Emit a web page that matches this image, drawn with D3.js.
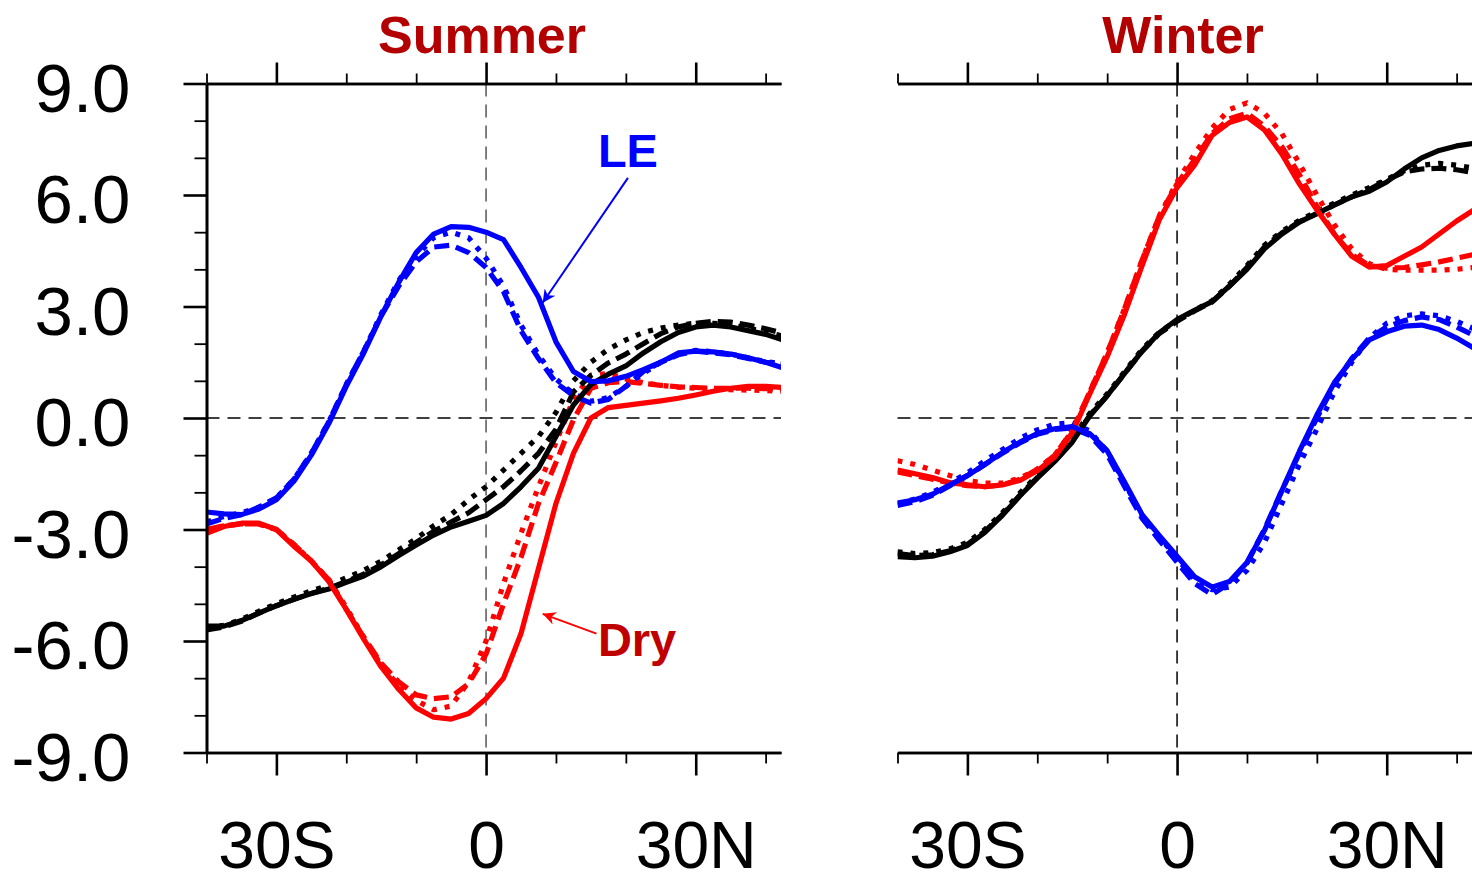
<!DOCTYPE html>
<html>
<head>
<meta charset="utf-8">
<script src="https://cdn.jsdelivr.net/npm/d3@7.9.0/dist/d3.min.js"></script>
<style>
  body { margin: 0; background: #fff; }
  svg { display: block; font-family: "Liberation Sans", Arial, Helvetica, sans-serif; }
</style>
</head>
<body>
<svg id="chart" width="1472" height="884"></svg>
<script>
// latitude grid (negative = south)
const lats = [-40, -37.5, -35, -32.5, -30, -27.5, -25, -22.5, -20, -17.5, -15, -12.5, -10, -7.5, -5, -2.5,
  0, 2.5, 5, 7.5, 10, 12.5, 15, 17.5, 20, 22.5, 25, 27.5, 30, 32.5, 35, 37.5, 40, 42.5];

// Summer - LE (blue)
const sumLeSolid = [-2.53, -2.58, -2.6, -2.45, -2.2, -1.7, -1.0, -0.15, 0.85, 1.75, 2.75, 3.65, 4.45, 4.95, 5.15, 5.13,
  5.0, 4.8, 4.05, 3.25, 2.05, 1.25, 0.98, 1.0, 1.12, 1.3, 1.5, 1.75, 1.8, 1.78, 1.72, 1.62, 1.5, 1.35];
const sumLeDash = [-2.85, -2.7, -2.6, -2.4, -2.15, -1.65, -0.95, -0.1, 0.9, 1.8, 2.75, 3.55, 4.2, 4.6, 4.65, 4.45,
  4.05, 3.4, 2.35, 1.6, 0.95, 0.6, 0.4, 0.5, 0.85, 1.25, 1.5, 1.7, 1.8, 1.75, 1.7, 1.6, 1.5, 1.45];
const sumLeDot = [-2.8, -2.65, -2.55, -2.4, -2.15, -1.65, -0.95, -0.1, 0.9, 1.8, 2.8, 3.7, 4.35, 4.85, 5.0, 4.85,
  4.3, 3.55, 2.5, 1.7, 1.05, 0.65, 0.45, 0.55, 0.85, 1.2, 1.5, 1.72, 1.82, 1.78, 1.72, 1.62, 1.52, 1.45];

// Summer - Dry (red)
const sumDrySolid = [-3.1, -2.92, -2.83, -2.83, -3.0, -3.45, -3.85, -4.4, -5.15, -5.95, -6.7, -7.3, -7.8, -8.05, -8.1, -7.95,
  -7.55, -7.0, -5.8, -4.05, -2.3, -0.95, 0.0, 0.28, 0.34, 0.4, 0.46, 0.53, 0.62, 0.72, 0.8, 0.85, 0.85, 0.82];
const sumDryDash = [-3.0, -2.9, -2.85, -2.85, -3.0, -3.4, -3.85, -4.35, -5.15, -5.9, -6.6, -7.1, -7.45, -7.55, -7.5, -7.15,
  -6.35, -5.0, -3.75, -2.3, -1.2, -0.05, 0.8, 0.95, 0.98, 0.93, 0.88, 0.84, 0.82, 0.8, 0.8, 0.8, 0.79, 0.78];
const sumDryDot = [-3.0, -2.9, -2.85, -2.85, -3.0, -3.4, -3.85, -4.35, -5.1, -5.9, -6.65, -7.2, -7.6, -7.85, -7.75, -7.1,
  -6.0, -4.45, -3.1, -1.85, -0.65, 0.5, 1.15, 1.2, 1.05, 0.95, 0.88, 0.83, 0.8, 0.78, 0.76, 0.75, 0.74, 0.72];

// Summer - total (black)
const sumTotSolid = [-5.6, -5.6, -5.45, -5.25, -5.05, -4.88, -4.72, -4.6, -4.42, -4.25, -4.0, -3.7, -3.42, -3.15, -2.93, -2.78,
  -2.62, -2.3, -1.85, -1.35, -0.5, 0.35, 0.9, 1.18, 1.4, 1.75, 2.05, 2.3, 2.45, 2.5, 2.45, 2.35, 2.25, 2.1];
const sumTotDash = [-5.7, -5.62, -5.47, -5.25, -5.05, -4.88, -4.72, -4.58, -4.4, -4.2, -3.95, -3.65, -3.35, -3.05, -2.8, -2.55,
  -2.2, -1.85, -1.42, -0.95, -0.3, 0.7, 1.15, 1.48, 1.72, 2.0, 2.27, 2.45, 2.55, 2.6, 2.58, 2.5, 2.4, 2.28];
const sumTotDot = [-5.65, -5.58, -5.42, -5.2, -5.0, -4.82, -4.65, -4.5, -4.3, -4.1, -3.85, -3.55, -3.25, -2.9, -2.6, -2.2,
  -1.85, -1.4, -0.95, -0.5, 0.15, 1.0, 1.5, 1.85, 2.1, 2.3, 2.42, 2.5, 2.55, 2.55, 2.5, 2.42, 2.32, 2.2];

// Winter - LE (blue)
const winLeSolid = [-2.29, -2.2, -2.05, -1.8, -1.55, -1.25, -0.93, -0.65, -0.42, -0.29, -0.23, -0.42, -0.88, -1.73, -2.6, -3.17,
  -3.72, -4.27, -4.55, -4.4, -3.89, -3.03, -1.95, -0.9, 0.08, 0.95, 1.57, 2.1, 2.32, 2.47, 2.5, 2.38, 2.15, 1.88];
const winLeDash = [-2.35, -2.25, -2.08, -1.82, -1.55, -1.25, -0.95, -0.67, -0.44, -0.31, -0.27, -0.47, -0.98, -1.85, -2.7, -3.3,
  -3.88, -4.45, -4.75, -4.45, -3.9, -3.0, -1.95, -0.95, 0.0, 0.9, 1.6, 2.15, 2.45, 2.62, 2.72, 2.65, 2.45, 2.22];
const winLeDot = [-2.3, -2.18, -2.0, -1.75, -1.48, -1.15, -0.85, -0.55, -0.32, -0.17, -0.12, -0.35, -0.9, -1.75, -2.62, -3.2,
  -3.78, -4.35, -4.62, -4.55, -4.1, -3.35, -2.3, -1.25, -0.3, 0.7, 1.5, 2.15, 2.55, 2.75, 2.8, 2.75, 2.6, 2.4];

// Winter - Dry (red)
const winDrySolid = [-1.4, -1.5, -1.6, -1.74, -1.8, -1.85, -1.8, -1.68, -1.42, -1.05, -0.4, 0.65, 1.65, 2.8, 4.1, 5.35,
  6.2, 6.8, 7.6, 7.95, 8.1, 7.75, 7.1, 6.3, 5.6, 4.95, 4.35, 4.06, 4.1, 4.35, 4.6, 4.95, 5.3, 5.6];
const winDryDash = [-1.45, -1.55, -1.65, -1.75, -1.82, -1.85, -1.8, -1.65, -1.38, -1.0, -0.35, 0.7, 1.75, 2.95, 4.25, 5.45,
  6.3, 6.95, 7.65, 8.05, 8.2, 7.85, 7.3, 6.55, 5.7, 4.95, 4.4, 4.1, 4.03, 4.05, 4.12, 4.2, 4.3, 4.4];
const winDryDot = [-1.15, -1.25, -1.4, -1.55, -1.68, -1.75, -1.75, -1.62, -1.38, -1.0, -0.35, 0.7, 1.75, 2.95, 4.25, 5.45,
  6.35, 7.1, 7.8, 8.3, 8.48, 8.2, 7.65, 6.85, 6.0, 5.2, 4.55, 4.15, 4.0, 3.98, 3.98, 3.98, 4.0, 4.05];

// Winter - total (black)
const winTotSolid = [-3.73, -3.76, -3.72, -3.6, -3.43, -3.08, -2.62, -2.1, -1.62, -1.17, -0.65, 0.05, 0.6, 1.2, 1.8, 2.3,
  2.65, 2.9, 3.13, 3.55, 4.0, 4.55, 4.95, 5.27, 5.5, 5.73, 5.95, 6.1, 6.35, 6.7, 7.0, 7.2, 7.32, 7.39];
const winTotDash = [-3.65, -3.7, -3.68, -3.57, -3.4, -3.05, -2.6, -2.08, -1.6, -1.15, -0.62, 0.07, 0.6, 1.2, 1.8, 2.28,
  2.6, 2.88, 3.12, 3.55, 4.05, 4.6, 4.98, 5.28, 5.5, 5.73, 5.95, 6.15, 6.4, 6.62, 6.7, 6.72, 6.68, 6.6];
const winTotDot = [-3.6, -3.65, -3.62, -3.52, -3.35, -3.0, -2.55, -2.02, -1.55, -1.1, -0.55, 0.12, 0.65, 1.25, 1.85, 2.32,
  2.62, 2.9, 3.15, 3.6, 4.1, 4.65, 5.02, 5.32, 5.55, 5.78, 6.0, 6.2, 6.42, 6.65, 6.8, 6.85, 6.8, 6.72];

// axis ticks / labels
const yMajor = [-9, -6, -3, 0, 3, 6, 9];
const yMinor = [-8, -7, -5, -4, -2, -1, 1, 2, 4, 5, 7, 8];
const xMajor = [-30, 0, 30];
const xMinor = [-40, -20, -10, 10, 20, 40];
const latLabel = d => d === 0 ? '0' : (Math.abs(d) + (d < 0 ? 'S' : 'N'));

const W = 1472, H = 884;
const svg = d3.select('#chart');
svg.append('rect').attr('width', W).attr('height', H).attr('fill', '#fff');

const y = d3.scaleLinear().domain([-9, 9]).range([752.5, 83.5]);

const dashes = { solid: null, dashed: '15,7', dotted: '5,8' };
const colors = { le: '#0000ff', dry: '#ff0000', tot: '#000000' };

const defs = svg.append('defs');
['le', 'dry'].forEach(k => {
  defs.append('marker')
    .attr('id', 'arrow-' + k)
    .attr('viewBox', '0 0 10 10')
    .attr('refX', 10).attr('refY', 5)
    .attr('markerWidth', 19).attr('markerHeight', 13)
    .attr('markerUnits', 'userSpaceOnUse')
    .attr('orient', 'auto')
    .append('path')
    .attr('d', 'M0,0L10,5L0,10L3,5Z')
    .attr('fill', colors[k]);
});

function drawPanel(opts) {
  const x = d3.scaleLinear().domain([-40, 42.2]).range([opts.left, opts.left + 574.5]);
  const g = svg.append('g');

  defs.append('clipPath').attr('id', 'clip-' + opts.name)
    .append('rect')
    .attr('x', x(-40)).attr('y', 0)
    .attr('width', x(42.2) - x(-40)).attr('height', H);

  // zero reference lines
  g.append('line')
    .attr('x1', x(-40)).attr('x2', x(42.2))
    .attr('y1', y(0)).attr('y2', y(0))
    .attr('stroke', '#000').attr('stroke-width', 1.3)
    .attr('stroke-dasharray', '13,8');
  g.append('line')
    .attr('x1', x(0)).attr('x2', x(0))
    .attr('y1', y(9)).attr('y2', y(-9))
    .attr('stroke', opts.vColor).attr('stroke-width', 1.5)
    .attr('stroke-dasharray', '13,8');

  // curves
  const lineGen = d3.line()
    .x((d, i) => x(lats[i]))
    .y(d => y(d));
  const plot = g.append('g').attr('clip-path', `url(#clip-${opts.name})`);
  plot.selectAll('path')
    .data(opts.series)
    .join('path')
    .attr('d', s => lineGen(s.values))
    .attr('fill', 'none')
    .attr('stroke', s => colors[s.key])
    .attr('stroke-width', 5.2)
    .attr('stroke-linejoin', 'round')
    .attr('stroke-dasharray', s => dashes[s.style]);

  // axes
  const axisStyle = (sel, w) => {
    sel.select('.domain').attr('stroke', '#000').attr('stroke-width', 2.6);
    sel.selectAll('.tick line').attr('stroke', '#000').attr('stroke-width', w);
  };

  g.append('g')
    .attr('transform', `translate(0,${y(9)})`)
    .call(d3.axisTop(x).tickValues(xMinor).tickSize(10).tickSizeOuter(0).tickFormat(''))
    .call(sel => axisStyle(sel, 1.8));
  g.append('g')
    .attr('transform', `translate(0,${y(9)})`)
    .call(d3.axisTop(x).tickValues(xMajor).tickSize(21).tickSizeOuter(0).tickFormat(''))
    .call(sel => axisStyle(sel, 2.6));

  g.append('g')
    .attr('transform', `translate(0,${y(-9)})`)
    .call(d3.axisBottom(x).tickValues(xMinor).tickSize(11).tickSizeOuter(0).tickFormat(''))
    .call(sel => axisStyle(sel, 1.8));
  g.append('g')
    .attr('transform', `translate(0,${y(-9)})`)
    .call(d3.axisBottom(x).tickValues(xMajor).tickSize(23).tickSizeOuter(0).tickPadding(46).tickFormat(latLabel))
    .call(sel => axisStyle(sel, 2.6))
    .call(sel => sel.selectAll('text').attr('font-size', 66).attr('fill', '#000')
      .attr('font-family', '"Liberation Sans", Arial, sans-serif'));

  if (opts.yAxis) {
    g.append('g')
      .attr('transform', `translate(${x(-40)},0)`)
      .call(d3.axisLeft(y).tickValues(yMinor).tickSize(12).tickSizeOuter(0).tickFormat(''))
      .call(sel => axisStyle(sel, 1.8));
    g.append('g')
      .attr('transform', `translate(${x(-40)},0)`)
      .call(d3.axisLeft(y).tickValues(yMajor).tickSize(23).tickSizeOuter(0).tickPadding(53)
        .tickFormat(d => d.toFixed(1)))
      .call(sel => axisStyle(sel, 2.6))
      .call(sel => sel.selectAll('text').attr('font-size', 69).attr('fill', '#000').attr('dy', '0.4em')
        .attr('font-family', '"Liberation Sans", Arial, sans-serif'));
  }

  // title
  svg.append('text')
    .attr('x', opts.titleX).attr('y', 53)
    .attr('text-anchor', 'middle')
    .attr('font-size', 52).attr('font-weight', 'bold')
    .attr('fill', '#b30000')
    .text(opts.title);

  return x;
}

const styles = ['dotted', 'dashed', 'solid'];
function seriesFor(le, dry, tot) {
  const out = [];
  styles.forEach((st, i) => {
    out.push({ key: 'tot', style: st, values: tot[i] });
    out.push({ key: 'dry', style: st, values: dry[i] });
    out.push({ key: 'le', style: st, values: le[i] });
  });
  return out;
}

const xs = drawPanel({
  name: 'summer', title: 'Summer', left: 206.5, titleX: 482, vColor: '#555', yAxis: true,
  series: seriesFor([sumLeDot, sumLeDash, sumLeSolid], [sumDryDot, sumDryDash, sumDrySolid], [sumTotDot, sumTotDash, sumTotSolid])
});
drawPanel({
  name: 'winter', title: 'Winter', left: 897.5, titleX: 1183, vColor: '#000', yAxis: false,
  series: seriesFor([winLeDot, winLeDash, winLeSolid], [winDryDot, winDryDash, winDrySolid], [winTotDot, winTotDash, winTotSolid])
});

// annotations (summer panel), placed in data units
const notes = [
  { key: 'le', text: 'LE', fill: '#0000ff', at: [16.0, 6.75], from: [20.3, 6.46], to: [8.1, 3.1] },
  { key: 'dry', text: 'Dry', fill: '#c00000', at: [16.0, -6.4], from: [15.8, -5.8], to: [8.1, -5.27] }
];
notes.forEach(n => {
  svg.append('line')
    .attr('x1', xs(n.from[0])).attr('y1', y(n.from[1]))
    .attr('x2', xs(n.to[0])).attr('y2', y(n.to[1]))
    .attr('stroke', colors[n.key]).attr('stroke-width', 2)
    .attr('marker-end', `url(#arrow-${n.key})`);
  svg.append('text')
    .attr('x', xs(n.at[0])).attr('y', y(n.at[1]))
    .attr('font-size', 47).attr('font-weight', 'bold')
    .attr('fill', n.fill)
    .text(n.text);
});
</script>
</body>
</html>
